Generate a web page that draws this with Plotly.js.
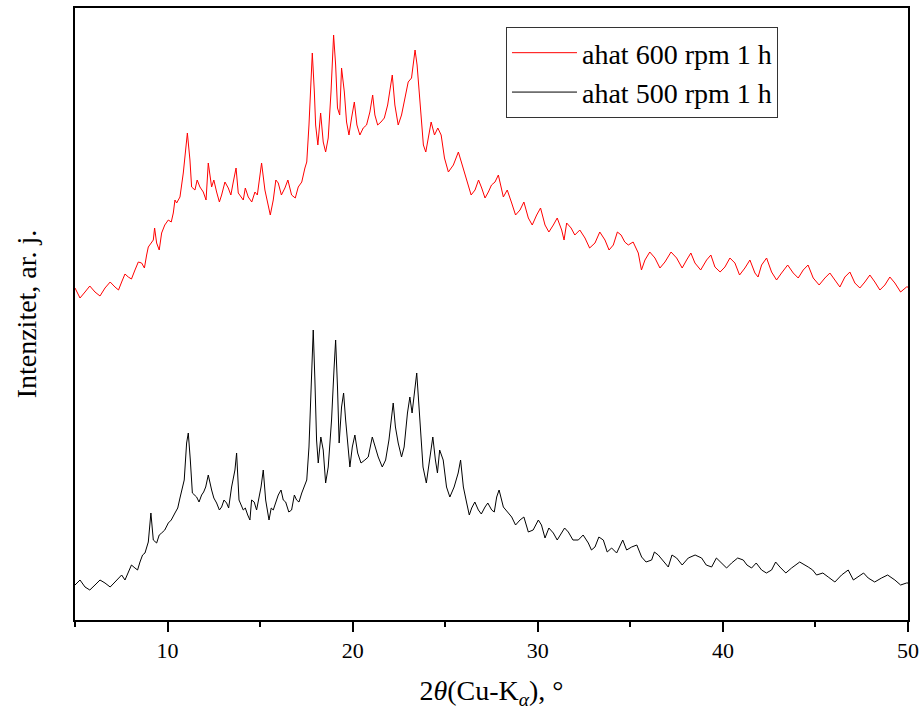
<!DOCTYPE html>
<html>
<head>
<meta charset="utf-8">
<script src="https://cdn.plot.ly/plotly-3.0.1.min.js"></script>
<style>html,body{margin:0;padding:0;background:#fff;}#chart{width:922px;height:717px;}</style>
</head>
<body>
<div id="chart"></div>
<script>
// Series names
const seriesNames = ["ahat 600 rpm 1 h", "ahat 500 rpm 1 h"];

// ahat 600 rpm 1 h (red) — 2θ positions and intensities (arbitrary units)
const x600 = [5.0,5.27,5.54,5.8,6.08,6.35,6.62,6.9,7.16,7.35,7.52,7.7,7.88,8.05,8.24,8.42,8.6,8.75,8.87,8.96,9.23,9.3,9.41,9.55,9.68,9.85,10.04,10.2,10.31,10.4,10.49,10.67,10.85,11.07,11.21,11.3,11.48,11.6,11.75,11.93,12.08,12.2,12.38,12.5,12.65,12.8,12.92,13.1,13.28,13.42,13.55,13.7,13.82,14.09,14.2,14.36,14.55,14.72,14.85,14.94,15.08,15.26,15.44,15.55,15.71,15.85,15.98,16.15,16.34,16.5,16.7,16.9,17.06,17.25,17.42,17.52,17.64,17.75,17.82,17.93,18.0,18.12,18.27,18.41,18.54,18.68,18.83,18.97,19.08,19.18,19.3,19.4,19.55,19.67,19.8,19.94,20.09,20.23,20.39,20.57,20.75,20.93,21.08,21.2,21.35,21.53,21.71,21.89,22.04,22.14,22.28,22.46,22.64,22.82,23.0,23.18,23.27,23.37,23.48,23.59,23.7,23.82,23.95,24.09,24.24,24.42,24.6,24.78,24.96,25.17,25.44,25.71,25.98,26.1,26.25,26.4,26.61,26.8,26.97,27.15,27.33,27.5,27.69,27.87,28.14,28.35,28.59,28.8,29.04,29.25,29.49,29.7,29.94,30.15,30.39,30.6,30.84,31.05,31.29,31.42,31.56,31.8,32.0,32.27,32.55,32.8,33.09,33.35,33.63,33.85,34.08,34.3,34.5,34.7,34.89,35.15,35.43,35.6,35.79,36.05,36.33,36.6,36.87,37.2,37.5,37.8,38.04,38.27,38.49,38.8,39.12,39.35,39.57,39.85,40.11,40.38,40.65,40.9,41.19,41.46,41.73,41.9,42.09,42.36,42.63,42.9,43.17,43.5,43.8,44.07,44.34,44.6,44.88,45.2,45.51,45.78,46.05,46.32,46.59,46.86,47.13,47.4,47.67,47.94,48.21,48.48,48.75,49.02,49.29,49.6,49.92,50.0];
const y600 = [332,322,328,334,328,324,332,338,333,330,338,346,343,341,350,358,357,352,365,373,380,392,377,370,387,395,400,398,407,420,417,423,447,487,460,433,430,440,433,428,420,457,433,440,428,418,425,438,432,425,438,452,427,420,432,423,418,428,425,440,457,430,412,405,420,440,437,425,432,440,425,422,433,438,452,458,495,545,567,528,495,475,507,478,468,482,528,585,555,512,505,552,528,498,485,502,518,495,485,492,495,508,525,505,495,498,502,515,532,545,515,495,505,522,538,542,558,570,555,528,498,475,468,482,498,485,492,485,462,448,455,468,452,445,435,425,430,440,432,422,428,435,438,445,423,430,417,405,410,418,402,395,405,412,395,388,395,402,390,380,397,392,385,390,382,372,377,388,380,370,375,388,385,378,375,378,367,350,360,368,362,352,358,368,362,352,360,367,357,350,360,365,353,348,353,362,357,345,352,360,347,343,355,362,348,340,347,355,347,342,350,355,342,335,342,347,340,333,343,348,337,332,338,345,338,330,335,343,337,328,333,333];

// ahat 500 rpm 1 h (black)
const x500 = [5.0,5.27,5.54,5.8,6.08,6.35,6.62,6.9,7.16,7.35,7.52,7.7,7.88,8.05,8.24,8.38,8.51,8.65,8.78,8.96,9.1,9.23,9.41,9.55,9.68,9.85,10.04,10.2,10.4,10.55,10.67,10.9,11.03,11.12,11.23,11.34,11.57,11.7,11.84,11.95,12.06,12.2,12.38,12.5,12.65,12.8,12.92,13.05,13.19,13.3,13.46,13.64,13.73,13.86,14.09,14.2,14.33,14.45,14.54,14.68,14.81,14.95,15.05,15.17,15.3,15.48,15.6,15.71,15.85,15.98,16.13,16.25,16.38,16.55,16.7,16.85,16.97,17.1,17.25,17.52,17.64,17.75,17.87,17.96,18.05,18.14,18.28,18.41,18.54,18.68,18.86,18.99,19.08,19.18,19.27,19.4,19.51,19.62,19.76,19.85,19.98,20.12,20.27,20.45,20.66,20.84,21.06,21.2,21.38,21.6,21.78,21.96,22.1,22.19,22.31,22.46,22.64,22.78,22.96,23.09,23.21,23.32,23.46,23.57,23.68,23.8,23.98,24.16,24.33,24.47,24.58,24.7,24.89,25.07,25.25,25.48,25.7,25.83,25.98,26.16,26.3,26.43,26.6,26.79,26.95,27.15,27.3,27.51,27.65,27.78,27.91,28.14,28.35,28.59,28.8,29.04,29.25,29.49,29.75,30.03,30.2,30.39,30.6,30.84,31.05,31.29,31.45,31.65,31.9,32.19,32.45,32.73,32.9,33.09,33.3,33.54,33.75,33.99,34.26,34.59,34.8,35.07,35.35,35.61,35.85,36.15,36.3,36.51,36.8,37.05,37.25,37.5,37.8,38.13,38.5,38.85,39.1,39.39,39.65,39.93,40.2,40.47,40.8,41.1,41.3,41.55,41.8,42.09,42.35,42.63,42.85,43.08,43.4,43.71,44.15,44.61,44.85,45.06,45.4,45.69,46.05,46.41,46.6,46.77,47.05,47.31,47.6,47.85,48.2,48.57,48.9,49.29,49.6,49.92,50.0];
const y500 = [35,40,33,30,35,40,37,33,38,42,45,40,48,55,52,50,58,65,67,78,107,80,77,85,87,90,97,100,107,112,122,140,177,187,160,127,123,118,125,128,133,145,130,122,117,110,113,120,117,112,133,150,167,120,110,112,105,100,120,118,110,122,133,150,120,100,112,110,118,125,130,120,118,108,110,125,120,118,127,140,173,233,290,240,180,157,183,170,137,153,200,250,280,233,177,213,227,200,167,153,173,185,167,157,160,163,183,173,163,153,160,180,200,217,193,177,163,173,207,223,207,227,247,217,183,153,137,160,183,160,147,170,160,133,123,133,147,160,133,117,105,112,118,110,106,113,117,110,108,123,130,113,108,103,95,100,103,88,90,100,95,82,92,87,80,87,92,88,80,80,85,77,70,73,83,80,68,72,67,80,70,73,75,63,58,60,68,65,58,53,65,62,55,62,65,62,55,53,62,57,52,57,62,60,55,52,57,50,47,50,58,53,47,52,58,53,50,45,47,43,38,45,48,50,40,43,47,42,38,42,45,40,35,37,37];

// Axis tick values
const xTicks = [10, 20, 30, 40, 50];
const xTickLabels = ["10", "20", "30", "40", "50"];

const FONT = "Liberation Serif, Times New Roman, serif";

const traces = [
  {x: x600, y: y600, name: seriesNames[0], type: "scatter", mode: "lines",
   line: {color: "#ff0000", width: 1}},
  {x: x500, y: y500, name: seriesNames[1], type: "scatter", mode: "lines",
   line: {color: "#000000", width: 1}}
];

const layout = {
  width: 922, height: 717,
  margin: {l: 75, r: 14, t: 8, b: 97},
  paper_bgcolor: "#fff", plot_bgcolor: "#fff",
  font: {family: FONT, color: "#000", size: 22},
  showlegend: true,
  legend: {
    x: 0.5174, y: 0.969, xanchor: "left", yanchor: "top",
    bordercolor: "#333", borderwidth: 1, bgcolor: "rgba(255,255,255,0)",
    font: {family: FONT, size: 28, color: "#000"},
    itemwidth: 65, tracegroupgap: 0
  },
  xaxis: {
    range: [5, 50], tickvals: xTicks, ticktext: xTickLabels,
    ticks: "outside", ticklen: 10, tickwidth: 2, tickcolor: "#000",
    minor: {dtick: 5, tick0: 0, ticks: "outside", ticklen: 5, tickwidth: 2, tickcolor: "#000", showgrid: false},
    showline: true, linecolor: "#000", linewidth: 2, mirror: true,
    showgrid: false, zeroline: false,
    tickfont: {family: FONT, size: 22, color: "#000"},
    title: {text: "2<i>θ</i>(Cu-K<sub><i>α</i></sub>), °", font: {family: FONT, size: 28, color: "#000"}, standoff: 18}
  },
  yaxis: {
    range: [0, 612], showticklabels: false, ticks: "",
    showline: true, linecolor: "#000", linewidth: 2, mirror: true,
    showgrid: false, zeroline: false,
    title: {text: "Intenzitet, ar. j.", font: {family: FONT, size: 28, color: "#000"}, standoff: 28}
  }
};

Plotly.newPlot("chart", traces, layout, {displayModeBar: false, staticPlot: true});
</script>
</body>
</html>
